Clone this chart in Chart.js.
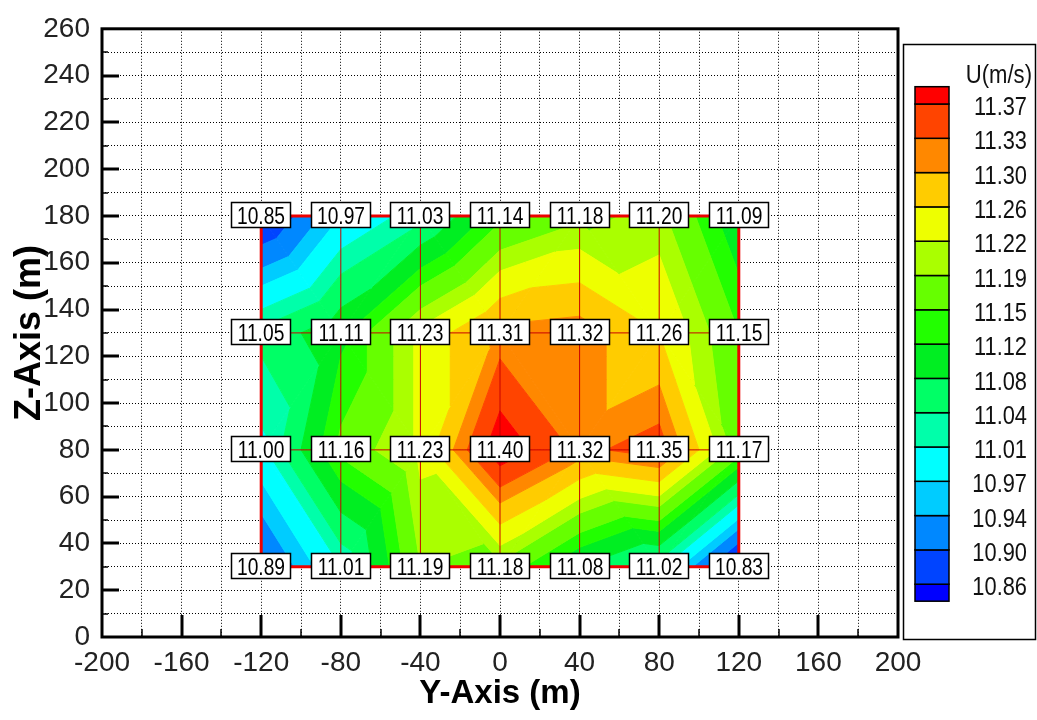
<!DOCTYPE html>
<html>
<head>
<meta charset="utf-8">
<script src="https://cdn.jsdelivr.net/npm/chart.js@4.4.0/dist/chart.umd.min.js"></script>
<style>
    body { margin: 0; background: #fff; }
    #wrap { width: 1037px; height: 720px; position: relative; }
</style>
</head>
<body>
<div id="wrap"><canvas id="uChart"></canvas></div>
<script>
// measurement grid (m)
var yPos = [-120, -80, -40, 0, 40, 80, 120];
var zPos = [30, 80, 130, 180];

// U (m/s) at each grid node, one row per Z position
var uZ30 = [10.89, 11.01, 11.19, 11.18, 11.08, 11.02, 10.83];
var uZ80 = [11.00, 11.16, 11.23, 11.40, 11.32, 11.35, 11.17];
var uZ130 = [11.05, 11.11, 11.23, 11.31, 11.32, 11.26, 11.15];
var uZ180 = [10.85, 10.97, 11.03, 11.14, 11.18, 11.20, 11.09];

// contour levels (legend labels), low to high
var levels = [10.86, 10.90, 10.94, 10.97, 11.01, 11.04, 11.08, 11.12, 11.15, 11.19, 11.22, 11.26, 11.30, 11.33, 11.37];
var bandColors = ['#0000ff', '#0044ff', '#0088ff', '#00ccff', '#00ffff', '#00ffaa', '#00ff66', '#00ee22',
    '#22ff00', '#66ff00', '#aaff00', '#eeff00', '#ffcc00', '#ff8800', '#ff4400', '#ff0000'];

var uRows = [uZ30, uZ80, uZ130, uZ180];
var FONT = '"Liberation Sans", Arial, sans-serif';


function node(i, j) {
    return { x: yPos[i], y: zPos[j], v: uRows[j][i] };
}

// keep the part of a polygon above (or below) a level, linear in v
function clip(poly, level, above) {
    var out = [];
    for (var n = 0; n < poly.length; n++) {
        var a = poly[n], b = poly[(n + 1) % poly.length];
        var ina = above ? a.v >= level : a.v <= level;
        var inb = above ? b.v >= level : b.v <= level;
        if (ina) out.push(a);
        if (ina !== inb) {
            var t = (level - a.v) / (b.v - a.v);
            out.push({ x: a.x + t * (b.x - a.x), y: a.y + t * (b.y - a.y), v: level });
        }
    }
    return out;
}

// narrow-looking text: squeeze horizontally
function narrowText(ctx, txt, x, y, sx) {
    ctx.save();
    ctx.translate(x, y);
    ctx.scale(sx, 1);
    ctx.fillText(txt, 0, 0);
    ctx.restore();
}

var contourPlugin = {
    id: 'contour',
    beforeDatasetsDraw: function (chart) {
        var xs = chart.scales.x, ys = chart.scales.y, ctx = chart.ctx;
        ctx.save();
        ctx.lineWidth = 1;
        ctx.lineJoin = 'round';
        for (var j = 0; j < zPos.length - 1; j++) {
            for (var i = 0; i < yPos.length - 1; i++) {
                var bl = node(i, j), br = node(i + 1, j), tl = node(i, j + 1), tr = node(i + 1, j + 1);
                var tris = (i + j) % 2 === 0 ? [[bl, br, tl], [br, tr, tl]] : [[bl, br, tr], [bl, tr, tl]];
                tris.forEach(function (tri) {
                    for (var k = 0; k < bandColors.length; k++) {
                        var poly = tri;
                        if (k > 0) poly = clip(poly, levels[k - 1], true);
                        if (k < levels.length) poly = clip(poly, levels[k], false);
                        if (poly.length < 3) continue;
                        ctx.beginPath();
                        poly.forEach(function (p, n) {
                            var px = xs.getPixelForValue(p.x), py = ys.getPixelForValue(p.y);
                            if (n) ctx.lineTo(px, py); else ctx.moveTo(px, py);
                        });
                        ctx.closePath();
                        ctx.fillStyle = ctx.strokeStyle = bandColors[k];
                        ctx.fill();
                        ctx.stroke();
                    }
                });
            }
        }
        ctx.restore();
    },
    afterDatasetsDraw: function (chart) {
        // value boxes at the nodes
        var xs = chart.scales.x, ys = chart.scales.y, ctx = chart.ctx;
        ctx.save();
        ctx.font = '24px ' + FONT;
        ctx.textAlign = 'center';
        ctx.textBaseline = 'middle';
        uRows.forEach(function (row, j) {
            row.forEach(function (u, i) {
                var px = Math.round(xs.getPixelForValue(yPos[i])), py = Math.round(ys.getPixelForValue(zPos[j]));
                ctx.fillStyle = '#fff';
                ctx.fillRect(px - 29.5, py - 13.5, 59, 25);
                ctx.strokeStyle = '#000';
                ctx.lineWidth = 1.5;
                ctx.strokeRect(px - 29.5, py - 13.5, 59, 25);
                ctx.fillStyle = '#000';
                narrowText(ctx, u.toFixed(2), px, py + 1, 0.8);
            });
        });
        ctx.restore();
    },
    afterDraw: function (chart) {
        var xs = chart.scales.x, ys = chart.scales.y, ctx = chart.ctx, a = chart.chartArea;
        ctx.save();
        ctx.strokeStyle = '#000';

        // inward tick marks
        for (var v = 10; v < 260; v += 10) {
            var py = Math.round(ys.getPixelForValue(v));
            ctx.lineWidth = v % 20 === 0 ? 3 : 1.5;
            ctx.beginPath();
            ctx.moveTo(a.left, py);
            ctx.lineTo(a.left + (v % 20 === 0 ? 17 : 6), py);
            ctx.stroke();
        }
        for (var w = -180; w < 200; w += 20) {
            var px = Math.round(xs.getPixelForValue(w));
            ctx.lineWidth = w % 40 === 0 ? 3 : 1.5;
            ctx.beginPath();
            ctx.moveTo(px, a.bottom);
            ctx.lineTo(px, a.bottom - (w % 40 === 0 ? 22 : 8));
            ctx.stroke();
        }

        // frame
        ctx.lineWidth = 3;
        ctx.strokeRect(a.left, a.top, a.right - a.left, a.bottom - a.top);

        // colour legend
        ctx.lineWidth = 1.5;
        ctx.strokeRect(903.5, 44.5, 132, 595);
        ctx.fillStyle = '#111';
        ctx.font = '26px ' + FONT;
        ctx.textAlign = 'right';
        ctx.textBaseline = 'middle';
        narrowText(ctx, 'U(m/s)', 1032, 76, 0.85);

        var top = 104, step = 34.3, last = levels.length - 1;
        var ly = function (m) { return top + (last - m) * step; };
        for (var k = 0; k < bandColors.length; k++) {
            var y0 = k === bandColors.length - 1 ? top - 17.3 : ly(k);
            var y1 = k === 0 ? ly(0) + 17 : ly(k - 1);
            ctx.fillStyle = bandColors[k];
            ctx.fillRect(915, y0, 34, y1 - y0);
            ctx.strokeRect(915, y0, 34, y1 - y0);
        }
        ctx.fillStyle = '#111';
        levels.forEach(function (lv, m) {
            narrowText(ctx, lv.toFixed(2), 1027, ly(m) + 4, 0.84);
        });
        ctx.restore();
    }
};


var meshSets = [];
// outer boundary first so it sits on top of the mesh lines
meshSets.push({
    data: [
        { x: yPos[0], y: zPos[0] }, { x: yPos[yPos.length - 1], y: zPos[0] },
        { x: yPos[yPos.length - 1], y: zPos[zPos.length - 1] }, { x: yPos[0], y: zPos[zPos.length - 1] },
        { x: yPos[0], y: zPos[0] }
    ],
    borderColor: '#ee0000',
    borderWidth: 3
});
zPos.forEach(function (z) {
    meshSets.push({
        data: yPos.map(function (y) { return { x: y, y: z }; }),
        borderColor: '#c80000',
        borderWidth: 1
    });
});
yPos.forEach(function (y) {
    meshSets.push({
        data: zPos.map(function (z) { return { x: y, y: z }; }),
        borderColor: '#c80000',
        borderWidth: 1
    });
});
meshSets.forEach(function (d) {
    d.showLine = true;
    d.pointRadius = 0;
    d.fill = false;
    d.tension = 0;
});


new Chart(document.getElementById('uChart'), {
    type: 'scatter',
    data: { datasets: meshSets },
    plugins: [contourPlugin],
    options: {
        responsive: true,
        maintainAspectRatio: false,
        animation: false,
        devicePixelRatio: 1,
        layout: { padding: { top: 23, right: 139, left: 0, bottom: 0 } },
        plugins: {
            legend: { display: false },
            tooltip: { enabled: false }
        },
        scales: {
            x: {
                type: 'linear',
                min: -200,
                max: 200,
                afterFit: function (s) { s.height = 83; },
                ticks: {
                    stepSize: 20,
                    autoSkip: false,
                    maxRotation: 0,
                    padding: 9,
                    color: '#222',
                    font: { family: FONT, size: 28 },
                    callback: function (v) { return Math.round(v) % 40 === 0 ? v : ''; }
                },
                grid: { color: '#000', lineWidth: 1, drawTicks: false },
                border: { display: false, dash: [1, 2] },
                title: {
                    display: true,
                    text: 'Y-Axis (m)',
                    color: '#000',
                    font: { family: FONT, size: 33, weight: 'bold' },
                    padding: { top: 0, bottom: 6 }
                }
            },
            y: {
                type: 'linear',
                min: 0,
                max: 260,
                afterFit: function (s) { s.width = 102; },
                ticks: {
                    stepSize: 10,
                    autoSkip: false,
                    padding: 12,
                    color: '#222',
                    font: { family: FONT, size: 28 },
                    callback: function (v) { return Math.round(v) % 20 === 0 ? v : ''; }
                },
                grid: { color: '#000', lineWidth: 1, drawTicks: false },
                border: { display: false, dash: [1, 2] },
                title: {
                    display: true,
                    text: 'Z-Axis (m)',
                    color: '#000',
                    font: { family: FONT, size: 36, weight: 'bold' },
                    padding: { top: 8, bottom: 0 }
                }
            }
        }
    }
});
</script>
</body>
</html>
